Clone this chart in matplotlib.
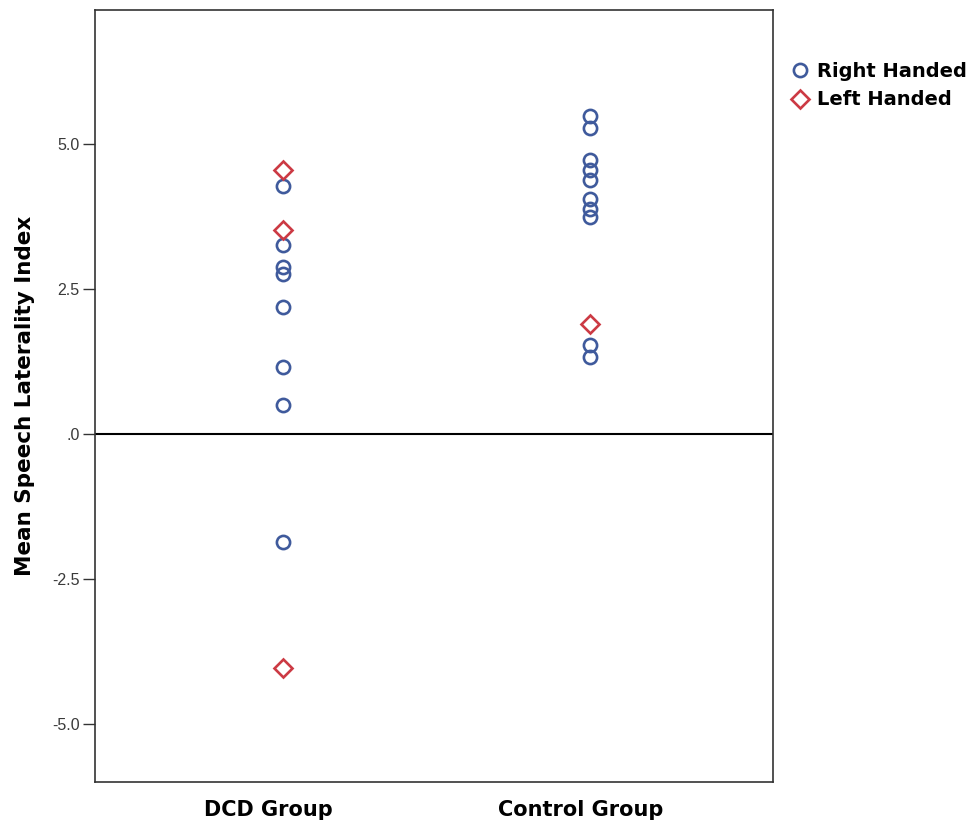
import matplotlib
matplotlib.use("Agg")
import matplotlib.pyplot as plt
from matplotlib.transforms import ScaledTranslation

plt.rcParams['font.family'] = ['DejaVu Sans']

groups = ["DCD Group", "Control Group"]

# Mean speech laterality index per participant
dcd_right = [4.28, 3.26, 2.88, 2.75, 2.19, 1.16, 0.50, -1.86]
dcd_left = [4.55, 3.52, -4.03]
control_right = [5.48, 5.28, 4.72, 4.55, 4.38, 4.05, 3.88, 3.74, 1.53, 1.33]
control_left = [1.90]

yticks = [-5.0, -2.5, 0.0, 2.5, 5.0]
ytick_labels = ["-5.0", "-2.5", ".0", "2.5", "5.0"]

blue = "#3f5a9c"
red = "#cc3a44"

fig = plt.figure(figsize=(9.69, 8.25), dpi=100)
ax = fig.add_axes([95 / 969, 43 / 825, 678 / 969, 772 / 825])

ax.axhline(0, color="black", lw=1.5, zorder=1)

right_vals = [dcd_right, control_right]
left_vals = [dcd_left, control_left]
for i, g in enumerate(groups):
    ax.plot([i] * len(right_vals[i]), right_vals[i], ls="none", marker="o",
            ms=9.5, mfc="none", mec=blue, mew=1.9, zorder=3,
            label="Right Handed" if i == 0 else None)
    ax.plot([i] * len(left_vals[i]), left_vals[i], ls="none", marker="D",
            ms=9.5, mfc="none", mec=red, mew=1.9, zorder=3,
            label="Left Handed" if i == 0 else None)

ax.set_xlim(-0.612, 1.595)
ax.set_ylim(-6.0, 7.31)
ax.set_xticks([0, 1])
ax.set_xticklabels(groups, fontsize=15, fontweight="bold")
ax.tick_params(axis="x", length=0, pad=13)
# category labels sit slightly left of the marker columns
for lab, dx in zip(ax.get_xticklabels(), [-15, -10]):
    lab.set_transform(lab.get_transform() + ScaledTranslation(dx / 100, 0, fig.dpi_scale_trans))

ax.set_yticks(yticks)
ax.set_yticklabels(ytick_labels, fontsize=11.5, color="#3a3a3a",
                   family="Liberation Sans")
ax.tick_params(axis="y", length=9, width=1, color="#333333", pad=2)

for sp in ax.spines.values():
    sp.set_color("#333333")
    sp.set_linewidth(1.2)

ax.set_ylabel("Mean Speech Laterality Index", fontsize=15.5, fontweight="bold", labelpad=12)

leg = ax.legend(loc="upper left", bbox_to_anchor=(1.0285, 0.933), frameon=False,
                prop={"size": 14, "weight": "bold"}, handletextpad=0.47,
                handlelength=0.8, borderaxespad=0, borderpad=0, labelspacing=0.5)

fig.savefig("out.png", dpi=100, facecolor="white")
